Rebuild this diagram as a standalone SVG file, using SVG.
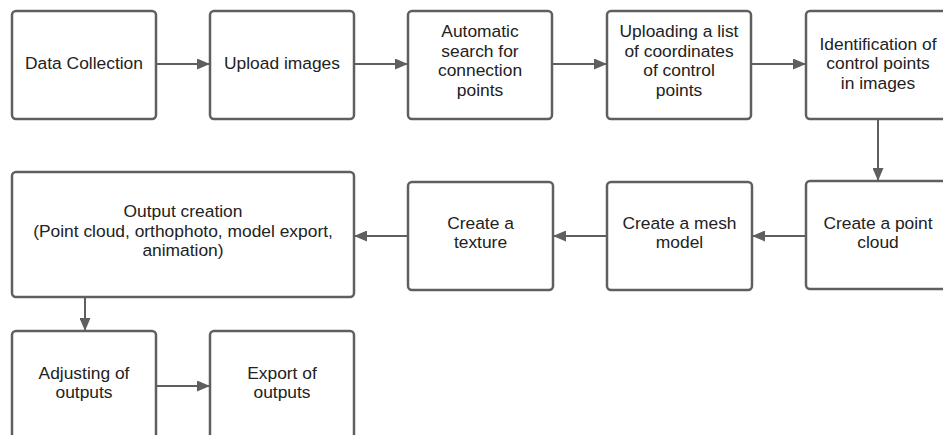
<svg xmlns="http://www.w3.org/2000/svg" width="943" height="435" viewBox="0 0 943 435">
<defs>
<style>
.box{fill:#fff;stroke:#5f5f5f;stroke-width:2.5}
.lbl{font-family:"Liberation Sans",Arial,sans-serif;font-size:17.4px;fill:#222;text-anchor:middle}
.con{fill:none;stroke:#5f5f5f;stroke-width:2}
</style>
<marker id="ah" viewBox="0 0 13 11" refX="13" refY="5.5" markerWidth="13" markerHeight="11" markerUnits="userSpaceOnUse" orient="auto">
<path d="M0,0 L13,5.5 L0,11 Z" fill="#5f5f5f"/>
</marker>
</defs>
<rect width="943" height="435" fill="#fff"/>
<g id="connectors">
<line class="con" x1="156" y1="64" x2="210" y2="64" marker-end="url(#ah)"/>
<line class="con" x1="354" y1="64" x2="408" y2="64" marker-end="url(#ah)"/>
<line class="con" x1="552" y1="64" x2="607" y2="64" marker-end="url(#ah)"/>
<line class="con" x1="751" y1="64" x2="806" y2="64" marker-end="url(#ah)"/>
<line class="con" x1="878" y1="119" x2="878" y2="181" marker-end="url(#ah)"/>
<line class="con" x1="806" y1="236" x2="752" y2="236" marker-end="url(#ah)"/>
<line class="con" x1="607" y1="236" x2="553" y2="236" marker-end="url(#ah)"/>
<line class="con" x1="408" y1="236" x2="354" y2="236" marker-end="url(#ah)"/>
<line class="con" x1="85" y1="297" x2="85" y2="331" marker-end="url(#ah)"/>
<line class="con" x1="156" y1="386" x2="210" y2="386" marker-end="url(#ah)"/>
</g>
<g id="n1"><rect class="box" x="12" y="11" width="144" height="108" rx="4"/><text class="lbl" x="84" y="69">Data Collection</text></g>
<g id="n2"><rect class="box" x="210" y="11" width="144" height="108" rx="4"/><text class="lbl" x="282" y="69">Upload images</text></g>
<g id="n3"><rect class="box" x="408" y="11" width="144" height="108" rx="4"/><text class="lbl" x="480" y="37">Automatic</text><text class="lbl" x="480" y="56.5">search for</text><text class="lbl" x="480" y="76">connection</text><text class="lbl" x="480" y="95.5">points</text></g>
<g id="n4"><rect class="box" x="607" y="11" width="144" height="108" rx="4"/><text class="lbl" x="679" y="37">Uploading a list</text><text class="lbl" x="679" y="56.5">of coordinates</text><text class="lbl" x="679" y="76">of control</text><text class="lbl" x="679" y="95.5">points</text></g>
<g id="n5"><rect class="box" x="806" y="11" width="144" height="108" rx="4"/><text class="lbl" x="878" y="49.5">Identification of</text><text class="lbl" x="878" y="69">control points</text><text class="lbl" x="878" y="88.5">in images</text></g>
<g id="n6"><rect class="box" x="806" y="181" width="144" height="108" rx="4"/><text class="lbl" x="878" y="228.5">Create a point</text><text class="lbl" x="878" y="248">cloud</text></g>
<g id="n7"><rect class="box" x="607" y="182" width="145" height="108" rx="4"/><text class="lbl" x="679.5" y="228.5">Create a mesh</text><text class="lbl" x="679.5" y="248">model</text></g>
<g id="n8"><rect class="box" x="408" y="182" width="145" height="108" rx="4"/><text class="lbl" x="480.5" y="228.5">Create a</text><text class="lbl" x="480.5" y="248">texture</text></g>
<g id="n9"><rect class="box" x="12" y="172" width="342" height="125" rx="4"/><text class="lbl" x="183" y="217">Output creation</text><text class="lbl" x="183" y="236.5">(Point cloud, orthophoto, model export,</text><text class="lbl" x="183" y="256">animation)</text></g>
<g id="n10"><rect class="box" x="12" y="331" width="144" height="120" rx="4"/><text class="lbl" x="84" y="378.5">Adjusting of</text><text class="lbl" x="84" y="398">outputs</text></g>
<g id="n11"><rect class="box" x="210" y="331" width="144" height="120" rx="4"/><text class="lbl" x="282" y="378.5">Export of</text><text class="lbl" x="282" y="398">outputs</text></g>
</svg>
